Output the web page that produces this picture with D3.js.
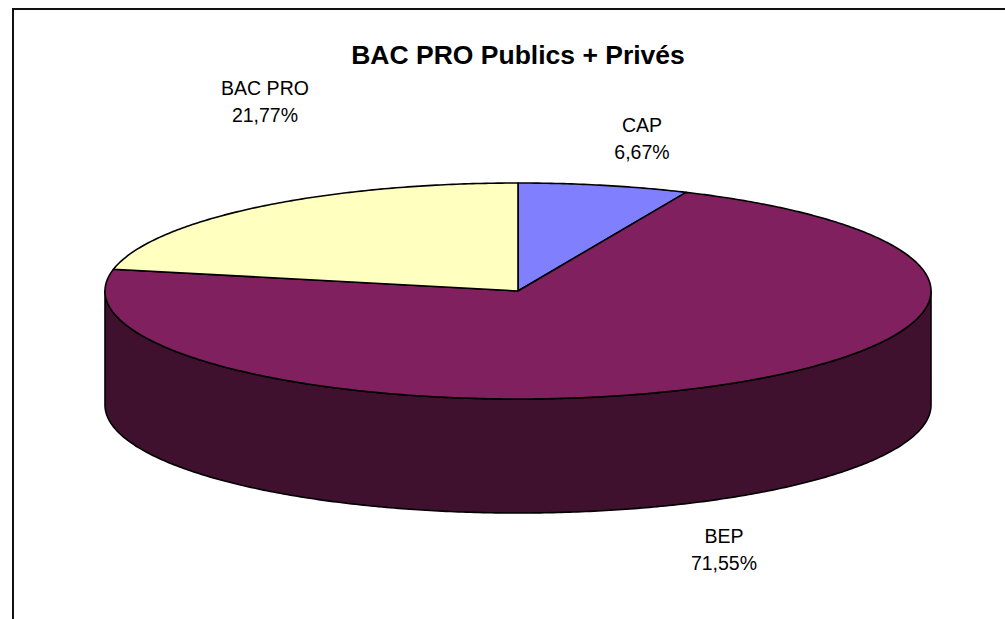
<!DOCTYPE html>
<html>
<head>
<meta charset="utf-8">
<script src="https://cdn.jsdelivr.net/npm/d3@7"></script>
<style>
  html, body { margin: 0; padding: 0; background: #fff; }
  svg { display: block; }
</style>
</head>
<body>
<svg id="chart" width="1005" height="619"></svg>
<script>
const categories = ["CAP", "BEP", "BAC PRO"];
const values = [6.67, 71.55, 21.77];
const valueLabels = ["6,67%", "71,55%", "21,77%"];
const topColors = ["#8080FF", "#80205F", "#FFFFC0"];
const sideColors = ["#404080", "#40102F", "#808060"];
const title = "BAC PRO Publics + Privés";

const W = 1005, H = 619;
const cx = 518, cy = 291, rx = 413, ry = 108, depth = 114;

const svg = d3.select("#chart");

// frame (extends beyond the picture on right and bottom)
svg.append("rect")
  .attr("x", 13).attr("y", 9).attr("width", 1200).attr("height", 900)
  .attr("fill", "#fff").attr("stroke", "#111").attr("stroke-width", 2);

// scales mapping unit circle to the projected ellipse
const xs = d3.scaleLinear().domain([-1, 1]).range([cx - rx, cx + rx]);
const ys = d3.scaleLinear().domain([-1, 1]).range([cy - ry, cy + ry]);

const pie = d3.pie().sort(null).startAngle(0).endAngle(2 * Math.PI);
const arcs = pie(values);

function pt(a, dy) {
  return [xs(Math.sin(a)), ys(-Math.cos(a)) + (dy || 0)];
}
function sample(a0, a1, dy) {
  const n = Math.max(2, Math.ceil(Math.abs(a1 - a0) / 0.01));
  return d3.range(n + 1).map(i => pt(a0 + (a1 - a0) * i / n, dy));
}
const line = d3.line();

const g = svg.append("g");

// side walls (front half: angles between PI/2 and 3PI/2)
arcs.forEach((d, i) => {
  const s = Math.max(d.startAngle, Math.PI / 2);
  const e = Math.min(d.endAngle, 3 * Math.PI / 2);
  if (e <= s) return;
  const top = sample(s, e, 0);
  const bottom = sample(e, s, depth);
  g.append("path")
    .attr("d", line(top.concat(bottom)) + "Z")
    .attr("fill", sideColors[i])
    .attr("stroke", "#000")
    .attr("stroke-width", 1.6)
    .attr("stroke-linejoin", "round");
});

// top faces
arcs.forEach((d, i) => {
  const pts = [[cx, cy]].concat(sample(d.startAngle, d.endAngle, 0));
  g.append("path")
    .attr("d", line(pts) + "Z")
    .attr("fill", topColors[i])
    .attr("stroke", "#000")
    .attr("stroke-width", 1.6)
    .attr("stroke-linejoin", "round");
});

// title
svg.append("text")
  .attr("x", cx).attr("y", 64)
  .attr("text-anchor", "middle")
  .attr("font-family", "Liberation Sans, Arial, sans-serif")
  .attr("font-weight", "bold")
  .attr("font-size", 26.5)
  .attr("fill", "#000")
  .text(title);

// data labels
const labelPos = [[642, 132], [724, 543], [265, 95]];
categories.forEach((c, i) => {
  const t = svg.append("text")
    .attr("text-anchor", "middle")
    .attr("font-family", "Liberation Sans, Arial, sans-serif")
    .attr("font-size", 19.5)
    .attr("fill", "#000");
  t.append("tspan").attr("x", labelPos[i][0]).attr("y", labelPos[i][1]).text(c);
  t.append("tspan").attr("x", labelPos[i][0]).attr("y", labelPos[i][1] + 27).text(valueLabels[i]);
});
</script>
</body>
</html>
